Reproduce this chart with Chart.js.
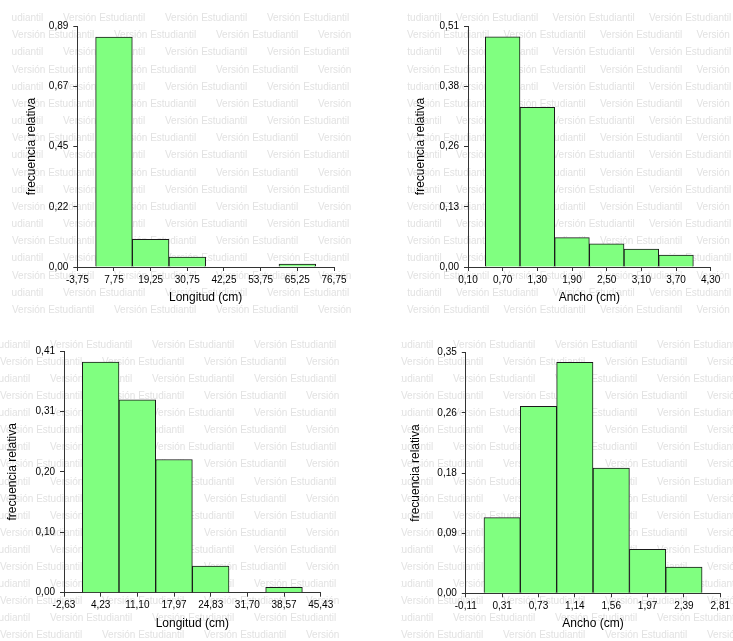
<!DOCTYPE html>
<html>
<head>
<meta charset="utf-8">
<script src="https://cdn.jsdelivr.net/npm/chart.js@4.4.1/dist/chart.umd.min.js"></script>
<style>
    html, body { margin: 0; padding: 0; background: #fff; }
    #lienzo { position: relative; width: 733px; height: 641px; overflow: hidden; }
    #lienzo canvas { position: absolute; }
</style>
</head>
<body>
<div id="lienzo">
    <canvas id="chart-longitud-1" width="366" height="320" style="left:0;top:0"></canvas>
    <canvas id="chart-ancho-1" width="367" height="320" style="left:366px;top:0"></canvas>
    <canvas id="chart-longitud-2" width="366" height="321" style="left:0;top:320px"></canvas>
    <canvas id="chart-ancho-2" width="367" height="321" style="left:366px;top:320px"></canvas>
</div>
<script>
// ============================================
// DATOS
// ============================================

// Arriba izquierda: Longitud (cm)
const longitud1Centros = [7.75, 19.25, 30.75, 42.25, 53.75, 65.25];
const longitud1Frec = [0.849, 0.102, 0.037, 0, 0, 0.011];
const longitud1TicksX = [-3.75, 7.75, 19.25, 30.75, 42.25, 53.75, 65.25, 76.75];
const longitud1EtiquetasX = ['-3,75', '7,75', '19,25', '30,75', '42,25', '53,75', '65,25', '76,75'];
const longitud1TicksY = [0, 0.2225, 0.445, 0.6675, 0.89];
const longitud1EtiquetasY = ['0,00', '0,22', '0,45', '0,67', '0,89'];

// Arriba derecha: Ancho (cm)
const ancho1Centros = [0.70, 1.30, 1.90, 2.50, 3.10, 3.70];
const ancho1Frec = [0.487, 0.338, 0.062, 0.049, 0.038, 0.025];
const ancho1TicksX = [0.10, 0.70, 1.30, 1.90, 2.50, 3.10, 3.70, 4.30];
const ancho1EtiquetasX = ['0,10', '0,70', '1,30', '1,90', '2,50', '3,10', '3,70', '4,30'];
const ancho1TicksY = [0, 0.1275, 0.255, 0.3825, 0.51];
const ancho1EtiquetasY = ['0,00', '0,13', '0,26', '0,38', '0,51'];

// Abajo izquierda: Longitud (cm)
const longitud2Centros = [4.236, 11.101, 17.967, 24.833, 31.699, 38.564];
const longitud2Frec = [0.391, 0.327, 0.226, 0.045, 0, 0.009];
const longitud2TicksX = [-2.63, 4.236, 11.101, 17.967, 24.833, 31.699, 38.564, 45.43];
const longitud2EtiquetasX = ['-2,63', '4,23', '11,10', '17,97', '24,83', '31,70', '38,57', '45,43'];
const longitud2TicksY = [0, 0.1025, 0.205, 0.3075, 0.41];
const longitud2EtiquetasY = ['0,00', '0,10', '0,20', '0,31', '0,41'];

// Abajo derecha: Ancho (cm)
const ancho2Centros = [0.307, 0.724, 1.141, 1.559, 1.976, 2.393];
const ancho2Frec = [0.110, 0.272, 0.336, 0.182, 0.064, 0.038];
const ancho2TicksX = [-0.11, 0.307, 0.724, 1.141, 1.559, 1.976, 2.393, 2.81];
const ancho2EtiquetasX = ['-0,11', '0,31', '0,73', '1,14', '1,56', '1,97', '2,39', '2,81'];
const ancho2TicksY = [0, 0.0875, 0.175, 0.2625, 0.35];
const ancho2EtiquetasY = ['0,00', '0,09', '0,18', '0,26', '0,35'];

// ============================================
// ESTILO
// ============================================

const fuente = "'Liberation Sans', Arial, Helvetica, sans-serif";
const colores = {
    barra: '#80ff80',
    bordeBarra: '#1a1a1a',
    eje: '#333333',
    texto: '#000000',
    marca: '#e2e2e2'
};

// Marca de agua "Versión Estudiantil" de fondo
function marcaAgua(m) {
    return {
        id: 'marcaAgua',
        beforeDraw(chart) {
            const ctx = chart.ctx;
            ctx.save();
            ctx.fillStyle = '#ffffff';
            ctx.fillRect(0, 0, chart.width, chart.height);
            ctx.beginPath();
            ctx.rect(m.x0, 0, m.x1 - m.x0, chart.height);
            ctx.clip();
            ctx.fillStyle = colores.marca;
            ctx.font = '10px ' + fuente;
            ctx.textBaseline = 'middle';
            for (let r = 0; r < m.filas; r++) {
                const y = m.y0 + r * m.paso;
                let x = m.x0 - m.periodo + (r % 2 === 0 ? m.desfase : 0);
                while (x < m.x1) {
                    ctx.fillText('Versión Estudiantil', x, y);
                    x += m.periodo;
                }
            }
            ctx.restore();
        }
    };
}

function crearHistograma(id, serie, geo, marca) {
    const ctx = document.getElementById(id);
    const half = 7.2; // mitad del alto de línea del título (12px * 1.2)
    const padIzq = geo.tituloY - half;
    const padAbajo = geo.h - geo.tituloX - half;
    const ultimoX = serie.ticksX.length - 1;
    const ultimoY = serie.ticksY.length - 1;

    const ejeComun = {
        grid: {
            display: true,
            drawOnChartArea: false,
            drawTicks: true,
            tickLength: 4,
            color: colores.eje,
            offset: false
        },
        border: { display: true, color: colores.eje, width: 1 }
    };

    return new Chart(ctx, {
        type: 'bar',
        data: {
            datasets: [{
                data: serie.centros.map((c, i) => ({ x: c, y: serie.frec[i] })),
                backgroundColor: colores.barra,
                borderColor: colores.bordeBarra,
                borderWidth: 1,
                barPercentage: 1,
                categoryPercentage: 1
            }]
        },
        options: {
            responsive: false,
            animation: false,
            layout: {
                padding: {
                    left: padIzq,
                    top: geo.top,
                    right: geo.w - geo.right,
                    bottom: padAbajo
                }
            },
            plugins: {
                legend: { display: false },
                tooltip: { enabled: false }
            },
            scales: {
                x: {
                    ...ejeComun,
                    type: 'linear',
                    offset: false,
                    min: serie.ticksX[0],
                    max: serie.ticksX[ultimoX],
                    afterBuildTicks: s => { s.ticks = serie.ticksX.map(v => ({ value: v })); },
                    afterFit: s => { s.height = geo.h - padAbajo - geo.bottom; },
                    ticks: {
                        color: colores.texto,
                        font: { family: fuente, size: 10 },
                        padding: 3,
                        autoSkip: false,
                        maxRotation: 0,
                        callback: (v, i) => serie.etiquetasX[i]
                    },
                    title: {
                        display: true,
                        text: serie.tituloX,
                        color: colores.texto,
                        font: { family: fuente, size: 12, lineHeight: 1.2 },
                        padding: 0
                    }
                },
                y: {
                    ...ejeComun,
                    min: 0,
                    max: serie.ticksY[ultimoY],
                    afterBuildTicks: s => { s.ticks = serie.ticksY.map(v => ({ value: v })); },
                    afterFit: s => { s.width = geo.left - padIzq; },
                    ticks: {
                        color: colores.texto,
                        font: { family: fuente, size: 10 },
                        padding: 5,
                        callback: (v, i) => serie.etiquetasY[i]
                    },
                    title: {
                        display: true,
                        text: 'frecuencia relativa',
                        color: colores.texto,
                        font: { family: fuente, size: 12, lineHeight: 1.2 },
                        padding: 0
                    }
                }
            }
        },
        plugins: [marcaAgua(marca)]
    });
}

crearHistograma('chart-longitud-1', {
    centros: longitud1Centros, frec: longitud1Frec,
    ticksX: longitud1TicksX, etiquetasX: longitud1EtiquetasX,
    ticksY: longitud1TicksY, etiquetasY: longitud1EtiquetasY,
    tituloX: 'Longitud (cm)'
}, { w: 366, h: 320, left: 77.3, right: 334, top: 26, bottom: 267, tituloY: 31.7, tituloX: 297.7 },
   { x0: 12, x1: 353, y0: 18.3, paso: 17.17, filas: 18, periodo: 102, desfase: 51 });

crearHistograma('chart-ancho-1', {
    centros: ancho1Centros, frec: ancho1Frec,
    ticksX: ancho1TicksX, etiquetasX: ancho1EtiquetasX,
    ticksY: ancho1TicksY, etiquetasY: ancho1EtiquetasY,
    tituloX: 'Ancho (cm)'
}, { w: 367, h: 320, left: 102, right: 344.7, top: 26, bottom: 267, tituloY: 54.7, tituloX: 297.7 },
   { x0: 41, x1: 367, y0: 18.3, paso: 17.17, filas: 18, periodo: 96.5, desfase: 49 });

crearHistograma('chart-longitud-2', {
    centros: longitud2Centros, frec: longitud2Frec,
    ticksX: longitud2TicksX, etiquetasX: longitud2EtiquetasX,
    ticksY: longitud2TicksY, etiquetasY: longitud2EtiquetasY,
    tituloX: 'Longitud (cm)'
}, { w: 366, h: 321, left: 64, right: 320.7, top: 31, bottom: 272.7, tituloY: 12.7, tituloX: 303.3 },
   { x0: 0, x1: 342, y0: 25, paso: 17.1, filas: 18, periodo: 102, desfase: 50 });

crearHistograma('chart-ancho-2', {
    centros: ancho2Centros, frec: ancho2Frec,
    ticksX: ancho2TicksX, etiquetasX: ancho2EtiquetasX,
    ticksY: ancho2TicksY, etiquetasY: ancho2EtiquetasY,
    tituloX: 'Ancho (cm)'
}, { w: 367, h: 321, left: 99.8, right: 356.5, top: 32.7, bottom: 273.3, tituloY: 49.7, tituloX: 304 },
   { x0: 35, x1: 367, y0: 25, paso: 17.1, filas: 18, periodo: 102, desfase: 52 });
</script>
</body>
</html>
